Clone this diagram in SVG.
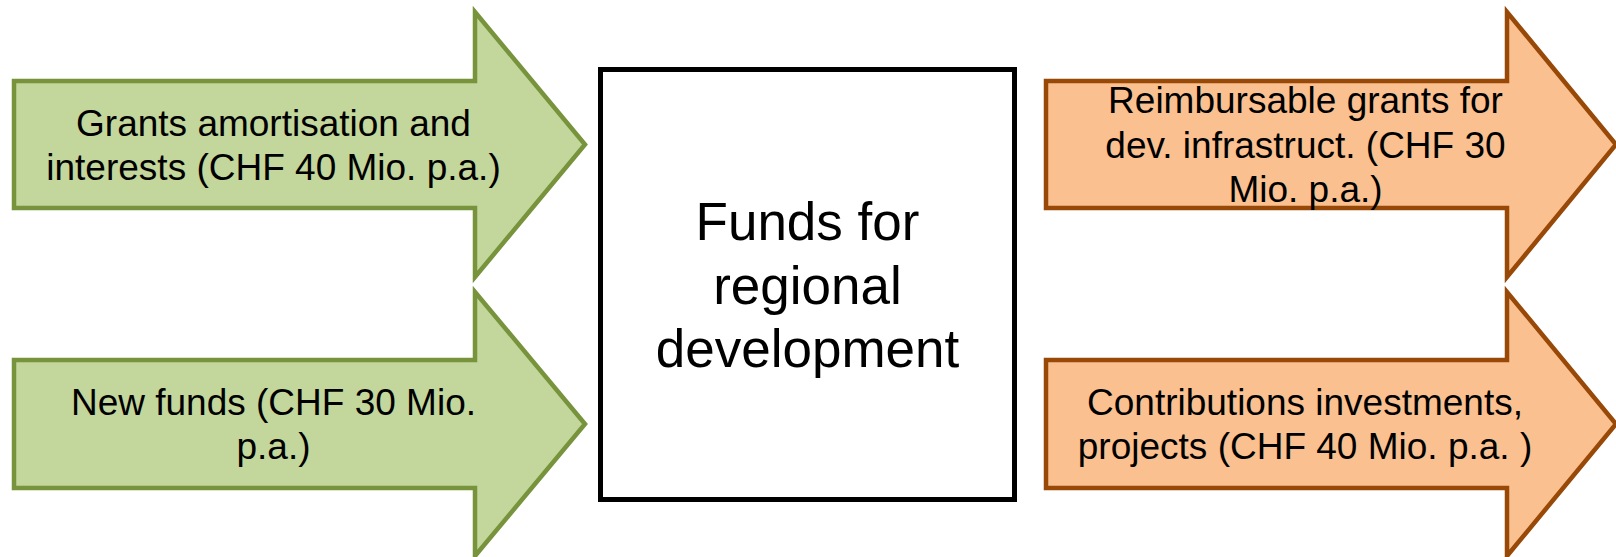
<svg xmlns="http://www.w3.org/2000/svg" width="1616" height="557" viewBox="0 0 1616 557">
<style>
.g{fill:#C3D69B;stroke:#77933C;stroke-width:4.5;stroke-linejoin:miter}
.o{fill:#FAC090;stroke:#984807;stroke-width:4.5;stroke-linejoin:miter}
.box{fill:#FFFFFF;stroke:#000000;stroke-width:5}
.t{font-family:"Liberation Sans",Arial,sans-serif;font-size:37px;fill:#000;text-anchor:middle}
.tb{font-family:"Liberation Sans",Arial,sans-serif;font-size:53px;fill:#000;text-anchor:middle}
</style>
<rect width="1616" height="557" fill="#FFFFFF"/>
<g id="connectors"></g>
<g id="in-grants">
<path class="g" d="M14,81 H475 V12 L585,144.5 L475,277 V208 H14 Z"/>
<text class="t" x="273.5" y="135.5">Grants amortisation and</text>
<text class="t" x="273.5" y="180">interests (CHF 40 Mio. p.a.)</text>
</g>
<g id="in-new">
<path class="g" d="M14,360 H475 V292 L585,424 L475,556 V488 H14 Z"/>
<text class="t" x="273.5" y="415">New funds (CHF 30 Mio.</text>
<text class="t" x="273.5" y="459">p.a.)</text>
</g>
<g id="fund">
<rect class="box" x="600.5" y="69.5" width="414" height="430"/>
<text class="tb" x="807.5" y="240">Funds for</text>
<text class="tb" x="807.5" y="304">regional</text>
<text class="tb" x="807.5" y="367">development</text>
</g>
<g id="out-reimb">
<path class="o" d="M1046,81 H1507 V12 L1616,144.5 L1507,277 V208 H1046 Z"/>
<text class="t" x="1305.5" y="113">Reimbursable grants for</text>
<text class="t" x="1305.5" y="157.5">dev. infrastruct. (CHF 30</text>
<text class="t" x="1305.5" y="202">Mio. p.a.)</text>
</g>
<g id="out-contrib">
<path class="o" d="M1046,360 H1507 V292 L1616,424 L1507,556 V488 H1046 Z"/>
<text class="t" x="1305" y="415">Contributions investments,</text>
<text class="t" x="1305" y="459">projects (CHF 40 Mio. p.a. )</text>
</g>
</svg>
